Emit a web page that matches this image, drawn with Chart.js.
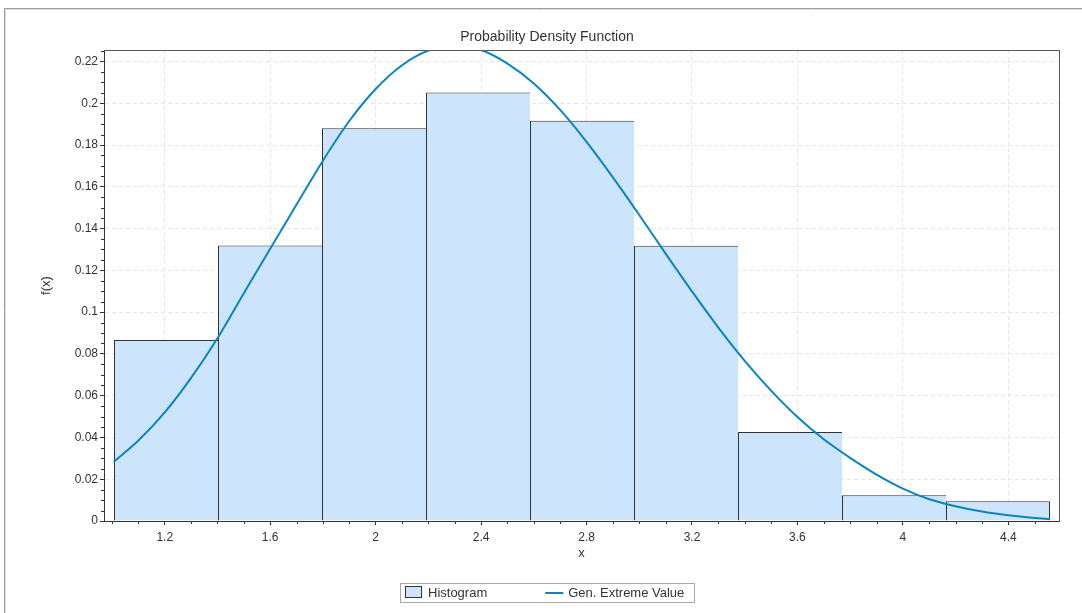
<!DOCTYPE html>
<html>
<head>
<meta charset="utf-8">
<title>Probability Density Function</title>
<script src="https://cdn.jsdelivr.net/npm/chart.js@4.4.1/dist/chart.umd.min.js"></script>
<style>
  html, body { margin: 0; padding: 0; background: #fff; overflow: hidden; }
  canvas { display: block; }
</style>
</head>
<body>
<canvas id="pdf" width="1082" height="613"></canvas>
<script>
// Histogram: bin edges along x and the relative frequency of each bin
const binEdges = [1.0075, 1.402, 1.7965, 2.191, 2.5855, 2.98, 3.3745, 3.769, 4.1635, 4.558];
const binHeights = [0.0866, 0.1319, 0.1880, 0.2051, 0.1916, 0.1318, 0.0426, 0.0123, 0.0094];

// Fitted generalised extreme value density, sampled along x
const curveX = [1.0063, 1.1, 1.2, 1.3, 1.4, 1.5, 1.6, 1.7, 1.8, 1.9,
                2.0, 2.1, 2.2, 2.3, 2.4, 2.5, 2.6, 2.7, 2.8, 2.9,
                3.0, 3.1, 3.2, 3.3, 3.4, 3.5, 3.6, 3.7, 3.8, 3.9,
                4.0, 4.1, 4.2, 4.3, 4.4, 4.5, 4.558];
const curveY = [0.0283, 0.0385, 0.0520, 0.0685, 0.0875, 0.1090, 0.1304, 0.1515, 0.1725, 0.1915,
                0.2068, 0.2182, 0.2252, 0.2275, 0.2255, 0.2190, 0.2095, 0.1968, 0.1815, 0.1645,
                0.1465, 0.1280, 0.1099, 0.0926, 0.0767, 0.0624, 0.0498, 0.0391, 0.0302, 0.0222,
                0.0155, 0.0104, 0.0071, 0.0045, 0.0027, 0.0014, 0.0010];

// Axis ticks and ranges
const xTicks = [1.2, 1.6, 2, 2.4, 2.8, 3.2, 3.6, 4, 4.4];
const yTicks = [0, 0.02, 0.04, 0.06, 0.08, 0.1, 0.12, 0.14, 0.16, 0.18, 0.2, 0.22];
const xRange = [0.96957, 4.59217];
const yRange = [0, 0.2255];

const FONT = '"Liberation Sans", Arial, Helvetica, sans-serif';
const BAR_FILL = '#cce5fd';
const BAR_EDGE = '#333333';
const CURVE = '#0a84c4';
const INK = '#333333';

Chart.defaults.font.family = FONT;
Chart.defaults.color = INK;

const histogram = binHeights.map((h, i) => ({ x: (binEdges[i] + binEdges[i + 1]) / 2, y: h }));
const density = curveX.map((x, i) => ({ x, y: curveY[i] }));

// Panel frame, plot box, minor ticks and the boxed legend
const decorations = {
  id: 'decorations',
  beforeDraw(chart) {
    const { ctx, width, height } = chart;
    ctx.save();
    ctx.fillStyle = '#fff';
    ctx.fillRect(0, 0, width, height);
    ctx.lineWidth = 1;
    ctx.strokeStyle = '#9c9c9c';
    ctx.beginPath();
    ctx.moveTo(4.5, height); ctx.lineTo(4.5, 8.5); ctx.lineTo(width, 8.5);
    ctx.stroke();
    ctx.strokeStyle = '#dedede';
    ctx.beginPath();
    ctx.moveTo(5.5, height); ctx.lineTo(5.5, 9.5); ctx.lineTo(width, 9.5);
    ctx.stroke();
    ctx.restore();
  },
  afterDatasetsDraw(chart) {
    const { ctx, chartArea: a } = chart;
    ctx.save();
    ctx.strokeStyle = '#5a5a5a';
    ctx.lineWidth = 1;
    ctx.beginPath();
    ctx.moveTo(a.left, Math.floor(a.top) + 0.5);
    ctx.lineTo(Math.floor(a.right) + 0.5, Math.floor(a.top) + 0.5);
    ctx.lineTo(Math.floor(a.right) + 0.5, a.bottom);
    ctx.stroke();
    ctx.restore();
  },
  afterDraw(chart) {
    const { ctx, chartArea: a, scales: { x, y } } = chart;
    ctx.save();
    // minor tick marks
    ctx.strokeStyle = INK;
    ctx.lineWidth = 1;
    ctx.beginPath();
    for (let i = 10; i <= 45; i++) {
      if (i >= 12 && i % 4 === 0) continue;
      const px = Math.round(x.getPixelForValue(i / 10)) + 0.5;
      ctx.moveTo(px, Math.round(a.bottom)); ctx.lineTo(px, Math.round(a.bottom) + 3);
    }
    for (let i = 1; i <= 45; i++) {
      if (i % 4 === 0) continue;
      const py = Math.round(y.getPixelForValue(i * 0.005)) + 0.5;
      ctx.moveTo(Math.round(a.left), py); ctx.lineTo(Math.round(a.left) - 3, py);
    }
    ctx.stroke();

    // legend
    const ds = chart.data.datasets;
    ctx.font = '13px ' + FONT;
    const w0 = ctx.measureText(ds[0].label).width;
    const w1 = ctx.measureText(ds[1].label).width;
    const total = 5 + 17 + 6 + w0 + 58 + 18 + 5 + w1 + 10;
    const cx = (chart.titleBlock.left + chart.titleBlock.right) / 2;
    const left = Math.round(cx - total / 2);
    const top = Math.round(x.bottom) + 18;
    const h = 19;
    ctx.strokeStyle = '#a8a8a8';
    ctx.strokeRect(left + 0.5, top + 0.5, Math.round(total), h);

    let cur = left + 5;
    ctx.fillStyle = BAR_FILL;
    ctx.fillRect(cur, top + 3, 17, 12);
    ctx.strokeStyle = BAR_EDGE;
    ctx.strokeRect(cur + 0.5, top + 3.5, 16, 11);
    cur += 17 + 6;
    ctx.fillStyle = INK;
    ctx.textBaseline = 'middle';
    ctx.textAlign = 'left';
    ctx.fillText(ds[0].label, cur, top + h / 2 + 0.5);
    cur += w0 + 58;
    ctx.strokeStyle = CURVE;
    ctx.lineWidth = 2;
    ctx.beginPath();
    ctx.moveTo(cur, top + h / 2 + 0.5); ctx.lineTo(cur + 18, top + h / 2 + 0.5);
    ctx.stroke();
    cur += 18 + 5;
    ctx.fillText(ds[1].label, cur, top + h / 2 + 0.5);
    ctx.restore();
  }
};

new Chart(document.getElementById('pdf'), {
  type: 'bar',
  data: {
    datasets: [
      {
        type: 'bar',
        label: 'Histogram',
        data: histogram,
        backgroundColor: BAR_FILL,
        borderColor: BAR_EDGE,
        borderWidth: ctx => ({ top: 1, left: 1, bottom: 0, right: ctx.dataIndex === binHeights.length - 1 ? 1 : 0 }),
        borderSkipped: false,
        barPercentage: 1,
        categoryPercentage: 1,
        inflateAmount: 0,
        order: 1
      },
      {
        type: 'line',
        label: 'Gen. Extreme Value',
        data: density,
        borderColor: CURVE,
        borderWidth: 2,
        pointRadius: 0,
        fill: false,
        cubicInterpolationMode: 'monotone',
        order: 0
      }
    ]
  },
  options: {
    responsive: false,
    animation: false,
    events: [],
    layout: { padding: { left: 35, right: 23, top: 0, bottom: 48 } },
    plugins: {
      legend: { display: false },
      tooltip: { enabled: false },
      title: {
        display: true,
        text: 'Probability Density Function',
        color: INK,
        font: { size: 14, weight: 'normal', family: FONT },
        padding: { top: 28.5, bottom: 4.7 }
      }
    },
    scales: {
      x: {
        type: 'linear',
        min: xRange[0],
        max: xRange[1],
        offset: false,
        afterBuildTicks: s => { s.ticks = xTicks.map(v => ({ value: v })); },
        afterFit: s => { s.height = 44; },
        ticks: {
          callback: v => String(+Number(v).toFixed(1)),
          font: { size: 12 },
          color: INK,
          padding: 5,
          maxRotation: 0,
          autoSkip: false
        },
        grid: { offset: false, color: '#e6e6e6', lineWidth: 1, tickLength: 4, tickColor: INK, tickWidth: 1 },
        border: { color: INK, width: 1, dash: [4, 3] },
        title: { display: true, text: 'x', color: INK, font: { size: 13 }, padding: { top: 4, bottom: 4 } }
      },
      y: {
        type: 'linear',
        min: yRange[0],
        max: yRange[1],
        afterBuildTicks: s => { s.ticks = yTicks.map(v => ({ value: v })); },
        afterFit: s => { s.width = 69; },
        ticks: {
          callback: v => String(+Number(v).toFixed(2)),
          font: { size: 12 },
          color: INK,
          padding: 2,
          autoSkip: false
        },
        grid: { color: '#e6e6e6', lineWidth: 1, tickLength: 4, tickColor: INK, tickWidth: 1 },
        border: { color: INK, width: 1, dash: [4, 3] },
        title: { display: true, text: 'f(x)', color: INK, font: { size: 13 }, padding: { top: 4, bottom: 4 } }
      }
    }
  },
  plugins: [decorations]
});
</script>
</body>
</html>
